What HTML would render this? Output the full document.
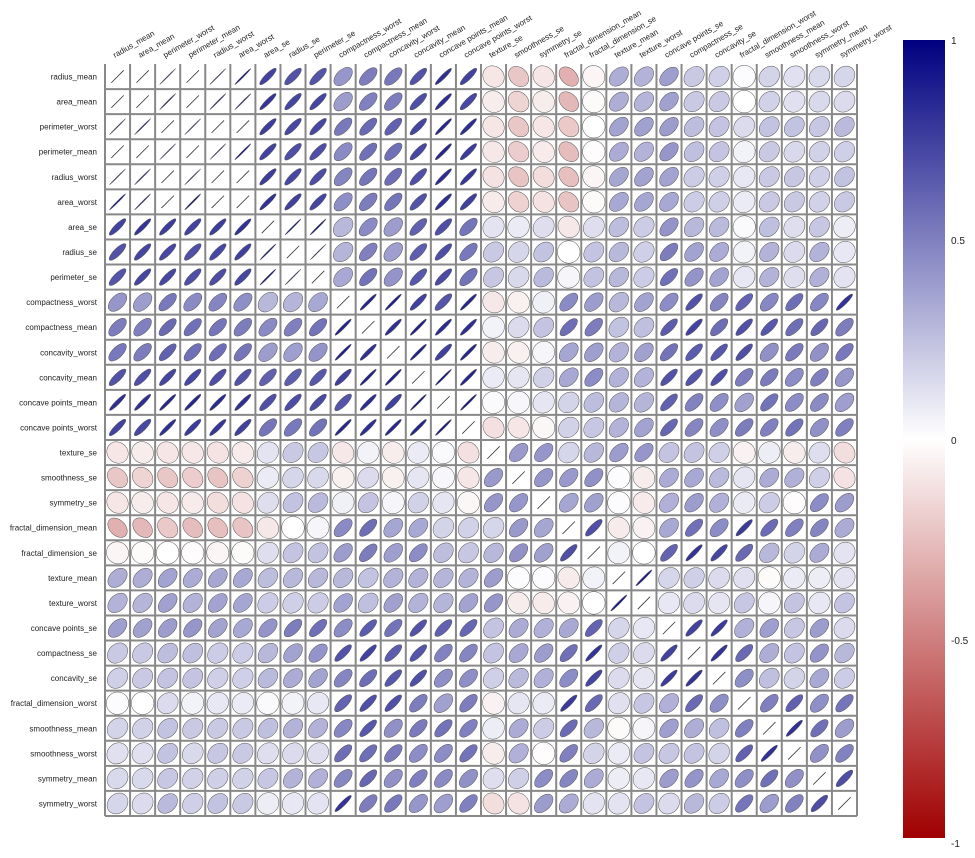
<!DOCTYPE html>
<html><head><meta charset="utf-8">
<style>
html,body{margin:0;padding:0;background:#fff;}
body{width:975px;height:853px;overflow:hidden;font-family:"Liberation Sans",Arial,sans-serif;}
</style></head>
<body>
<svg id="chart" width="975" height="853" xmlns="http://www.w3.org/2000/svg">
<defs>
<linearGradient id="cbar" x1="0" y1="0" x2="0" y2="1">
<stop offset="0" stop-color="#000080"/><stop offset="0.5" stop-color="#ffffff"/><stop offset="1" stop-color="#a00000"/>
</linearGradient>
</defs>
<g id="grid"></g>
<g id="rowlabels"></g>
<g id="collabels"></g>
<rect x="903" y="40" width="42" height="798" fill="url(#cbar)"/>
<g font-size="10" fill="#222">
<text x="951" y="44">1</text>
<text x="951" y="244">0.5</text>
<text x="951" y="444">0</text>
<text x="951" y="644">-0.5</text>
<text x="951" y="847">-1</text>
</g>
</svg>
<script>
// sklearn feature order
const baseNames = ["radius_mean","texture_mean","perimeter_mean","area_mean","smoothness_mean","compactness_mean","concavity_mean","concave points_mean","symmetry_mean","fractal_dimension_mean","radius_se","texture_se","perimeter_se","area_se","smoothness_se","compactness_se","concavity_se","concave points_se","symmetry_se","fractal_dimension_se","radius_worst","texture_worst","perimeter_worst","area_worst","smoothness_worst","compactness_worst","concavity_worst","concave points_worst","symmetry_worst","fractal_dimension_worst"];
// upper triangle rows (values to the right of the diagonal)
const upper = [
[0.32,0.998,0.987,0.17,0.51,0.68,0.82,0.15,-0.31,0.68,-0.10,0.67,0.74,-0.22,0.21,0.19,0.38,-0.10,-0.04,0.97,0.30,0.97,0.94,0.12,0.41,0.53,0.74,0.16,0.01],
[0.33,0.32,-0.02,0.24,0.30,0.29,0.07,-0.08,0.28,0.39,0.28,0.26,0.01,0.19,0.14,0.16,0.01,0.05,0.35,0.91,0.36,0.34,0.08,0.28,0.30,0.30,0.11,0.12],
[0.987,0.21,0.56,0.72,0.85,0.18,-0.26,0.69,-0.09,0.69,0.74,-0.20,0.25,0.23,0.41,-0.08,-0.01,0.97,0.30,0.97,0.94,0.15,0.46,0.56,0.77,0.19,0.05],
[0.18,0.50,0.69,0.82,0.15,-0.28,0.73,-0.07,0.73,0.80,-0.17,0.21,0.21,0.37,-0.07,-0.02,0.96,0.29,0.96,0.96,0.12,0.39,0.51,0.72,0.14,0.00],
[0.66,0.52,0.55,0.56,0.58,0.30,0.07,0.30,0.25,0.33,0.32,0.25,0.38,0.20,0.28,0.21,0.04,0.24,0.21,0.81,0.47,0.43,0.50,0.39,0.50],
[0.88,0.83,0.60,0.57,0.50,0.05,0.55,0.46,0.14,0.74,0.57,0.64,0.23,0.51,0.54,0.25,0.59,0.51,0.57,0.87,0.82,0.82,0.51,0.69],
[0.92,0.50,0.34,0.63,0.08,0.66,0.62,0.10,0.67,0.69,0.68,0.18,0.45,0.69,0.30,0.73,0.68,0.45,0.75,0.88,0.86,0.41,0.51],
[0.46,0.17,0.70,0.02,0.71,0.69,0.03,0.49,0.44,0.62,0.10,0.26,0.83,0.29,0.86,0.81,0.45,0.67,0.75,0.91,0.38,0.37],
[0.48,0.30,0.13,0.31,0.22,0.19,0.42,0.34,0.39,0.45,0.33,0.19,0.09,0.22,0.18,0.43,0.47,0.43,0.43,0.70,0.44],
[0.00,0.16,0.04,-0.09,0.40,0.56,0.45,0.34,0.35,0.69,-0.25,-0.05,-0.21,-0.23,0.50,0.46,0.35,0.18,0.33,0.77],
[0.21,0.97,0.95,0.16,0.36,0.33,0.51,0.24,0.23,0.72,0.19,0.72,0.75,0.14,0.29,0.38,0.53,0.09,0.05],
[0.22,0.11,0.40,0.23,0.19,0.23,0.41,0.28,-0.11,0.41,-0.10,-0.08,-0.07,-0.09,-0.07,-0.12,-0.13,-0.05],
[0.94,0.15,0.42,0.36,0.56,0.27,0.24,0.70,0.20,0.72,0.73,0.13,0.34,0.42,0.55,0.11,0.09],
[0.08,0.28,0.27,0.42,0.13,0.13,0.76,0.20,0.76,0.81,0.13,0.28,0.39,0.54,0.07,0.02],
[0.34,0.27,0.33,0.41,0.43,-0.23,-0.07,-0.22,-0.18,0.31,-0.06,-0.06,-0.10,-0.11,0.10],
[0.80,0.74,0.39,0.80,0.20,0.14,0.26,0.20,0.23,0.68,0.64,0.48,0.28,0.59],
[0.77,0.31,0.73,0.19,0.10,0.23,0.19,0.17,0.48,0.66,0.44,0.20,0.44],
[0.31,0.61,0.36,0.09,0.39,0.34,0.22,0.45,0.55,0.60,0.14,0.31],
[0.37,-0.13,-0.08,-0.10,-0.11,-0.01,0.06,0.04,-0.03,0.39,0.08],
[-0.04,-0.00,-0.00,-0.02,0.17,0.39,0.38,0.22,0.11,0.59],
[0.36,0.99,0.98,0.22,0.48,0.57,0.79,0.24,0.09],
[0.37,0.35,0.23,0.36,0.37,0.36,0.23,0.22],
[0.98,0.24,0.53,0.62,0.82,0.27,0.14],
[0.21,0.44,0.54,0.75,0.21,0.08],
[0.57,0.52,0.55,0.49,0.62],
[0.89,0.86,0.80,0.61,0.81],
[0.86,0.53,0.69],
[0.50,0.51],
[0.54],
[]
];
// displayed order
const order = ["radius_mean","area_mean","perimeter_worst","perimeter_mean","radius_worst","area_worst","area_se","radius_se","perimeter_se","compactness_worst","compactness_mean","concavity_worst","concavity_mean","concave points_mean","concave points_worst","texture_se","smoothness_se","symmetry_se","fractal_dimension_mean","fractal_dimension_se","texture_mean","texture_worst","concave points_se","compactness_se","concavity_se","fractal_dimension_worst","smoothness_mean","smoothness_worst","symmetry_mean","symmetry_worst"];

function corr(a,b){
  let i=baseNames.indexOf(a), j=baseNames.indexOf(b);
  if(i===j) return 1;
  if(i>j){const t=i;i=j;j=t;}
  return upper[i][j-i-1];
}
function color(r){
  let c;
  if(r>=0){c=[255-255*r,255-255*r,255-127*r];}
  else{const t=-r;c=[255-95*t,255-255*t,255-255*t];}
  return `rgb(${c.map(v=>Math.round(v)).join(',')})`;
}
const NS="http://www.w3.org/2000/svg";
const x0=105,y0=64,x1=857,y1=816,n=order.length;
const cw=(x1-x0)/n, ch=(y1-y0)/n;
const xPos=i=>x0+i*cw, yPos=i=>y0+i*ch;
const grid=document.getElementById('grid');
for(let r=0;r<n;r++){
  for(let c=0;c<n;c++){
    const v=corr(order[r],order[c]);
    const cx=xPos(c)+cw/2, cy=yPos(r)+ch/2;
    const w=cw*0.9, h=w*(1-Math.abs(v));
    const isLine=h<0.6;
    const el=document.createElementNS(NS, isLine?'line':'ellipse');
    if(isLine){
      const d=w*0.78/2/Math.SQRT2, s=v>=0?1:-1;
      el.setAttribute('x1',cx-d);el.setAttribute('y1',cy+d*s);
      el.setAttribute('x2',cx+d);el.setAttribute('y2',cy-d*s);
      el.setAttribute('stroke','#333');el.setAttribute('stroke-width','0.8');
    } else {
      el.setAttribute('cx',cx);el.setAttribute('cy',cy);
      el.setAttribute('rx',w/2);el.setAttribute('ry',h/2);
      el.setAttribute('transform',`rotate(${v>=0?-45:45} ${cx} ${cy})`);
      el.setAttribute('fill',color(v));
      el.setAttribute('stroke','#555');el.setAttribute('stroke-width','0.5');
    }
    
    
    grid.appendChild(el);
  }
}
// grid lines
for(let i=1;i<=n;i++){
  const l=document.createElementNS(NS,'line');
  l.setAttribute('x1',x0);l.setAttribute('x2',x1);l.setAttribute('y1',yPos(i));l.setAttribute('y2',yPos(i));
  l.setAttribute('stroke','#888');l.setAttribute('stroke-width','2');
  
  
  grid.appendChild(l);
}
for(let i=0;i<=n;i++){
  const l=document.createElementNS(NS,'line');
  l.setAttribute('y1',y0);l.setAttribute('y2',y1);l.setAttribute('x1',xPos(i));l.setAttribute('x2',xPos(i));
  l.setAttribute('stroke','#888');l.setAttribute('stroke-width','2');
  
  
  grid.appendChild(l);
}
const rl=document.getElementById('rowlabels'), cl=document.getElementById('collabels');
order.forEach((name,i)=>{
  const t=document.createElementNS(NS,'text');
  t.setAttribute('x',97);t.setAttribute('y',yPos(i)+ch/2+3);
  t.setAttribute('text-anchor','end');t.setAttribute('font-size','8');t.setAttribute('fill','#222');
  t.textContent=name;
  
  
  rl.appendChild(t);
  const u=document.createElementNS(NS,'text');
  const ux=xPos(i)+10, uy=y0-6;
  u.setAttribute('x',ux);u.setAttribute('y',uy);
  u.setAttribute('font-size','8');u.setAttribute('fill','#222');
  u.setAttribute('transform',`rotate(-30 ${ux} ${uy})`);
  u.textContent=name;
  
  
  cl.appendChild(u);
});
</script>
</body></html>
